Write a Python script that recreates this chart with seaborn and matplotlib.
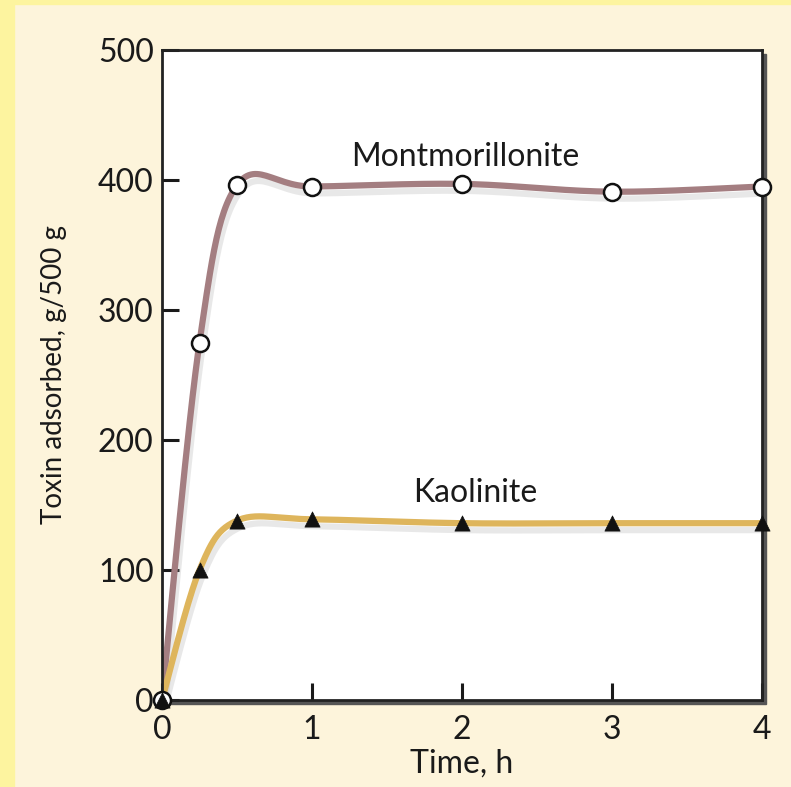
import numpy as np
import seaborn as sns
import matplotlib.pyplot as plt
from matplotlib.patches import Rectangle
import matplotlib.patheffects as pe

# values
time_h = [0, 0.25, 0.5, 1, 2, 3, 4]
montmorillonite = [0, 275, 396, 395, 397, 391, 395]
kaolinite = [0, 100, 138, 139, 136, 136, 136]

x_ticks = [0, 1, 2, 3, 4]
y_ticks = [0, 100, 200, 300, 400, 500]


def smooth(xs, ys, n=30):
    # uniform Catmull-Rom curve through the measured points (drawing only)
    p = np.column_stack([xs, ys]).astype(float)
    p = np.vstack([p[0], p, p[-1]])
    out = []
    t = np.linspace(0, 1, n)[:, None]
    for i in range(1, len(p) - 2):
        p0, p1, p2, p3 = p[i - 1], p[i], p[i + 1], p[i + 2]
        seg = 0.5 * ((2 * p1) + (-p0 + p2) * t + (2 * p0 - 5 * p1 + 4 * p2 - p3) * t ** 2
                     + (-p0 + 3 * p1 - 3 * p2 + p3) * t ** 3)
        out.append(seg if i == 1 else seg[1:])
    out = np.vstack(out)
    return out[:, 0], out[:, 1]


sns.set_style('ticks')
plt.rcParams['font.family'] = ['Lato', 'DejaVu Sans']

W, H = 791, 787
fig = plt.figure(figsize=(W / 100, H / 100), dpi=100)
fig.patch.set_facecolor('#FDF4DB')
fig.patches.append(Rectangle((0, 0), 14 / W, 1, transform=fig.transFigure,
                             color='#FDF49F', zorder=-3))
fig.patches.append(Rectangle((0, 1 - 4 / H), 1, 4 / H, transform=fig.transFigure,
                             color='#FDF49F', zorder=-3))

left, right, top, bottom = 162, 762, 50, 700
# drop shadow behind the plot frame
fig.patches.append(Rectangle(((left + 4) / W, 1 - (bottom + 4) / H), (right - left) / W,
                             (bottom - top) / H, transform=fig.transFigure,
                             color='#555555', zorder=-2))
ax = fig.add_axes([left / W, 1 - bottom / H, (right - left) / W, (bottom - top) / H])
ax.set_facecolor('white')

shadow = [pe.SimpleLineShadow(offset=(2, -5), shadow_color='#999999', alpha=0.22),
          pe.Normal()]

mx, my = smooth(time_h, montmorillonite)
kx, ky = smooth(time_h, kaolinite)
sns.lineplot(x=mx, y=my, sort=False, estimator=None, color='#A47E81', lw=4.5,
             ax=ax, path_effects=shadow, zorder=2)
sns.lineplot(x=kx, y=ky, sort=False, estimator=None, color='#DEB55C', lw=4.5,
             ax=ax, path_effects=shadow, zorder=2)

sns.scatterplot(x=time_h, y=montmorillonite, marker='o', s=150, color='white',
                edgecolor='#111111', linewidth=1.8, ax=ax, zorder=3, clip_on=False)
sns.scatterplot(x=time_h, y=kaolinite, marker='^', s=120, color='#111111',
                edgecolor='#111111', linewidth=0.5, ax=ax, zorder=4, clip_on=False)

ax.text(2.02, 406, 'Montmorillonite', ha='center', va='bottom', fontsize=23,
        color='#1a1a1a')
ax.text(2.09, 148, 'Kaolinite', ha='center', va='bottom', fontsize=23,
        color='#1a1a1a')

ax.set_xlim(0, 4)
ax.set_ylim(0, 500)
ax.set_xticks(x_ticks)
ax.set_yticks(y_ticks)
ax.tick_params(direction='in', length=12, width=2.2, labelsize=23, colors='#1a1a1a',
               pad=6)
ax.tick_params(axis='x', pad=11)
for s in ax.spines.values():
    s.set_color('#222222')
    s.set_linewidth(2)

ax.set_xlabel('Time, h', fontsize=23, color='#1a1a1a')
ax.set_ylabel('Toxin adsorbed, g/500 g', fontsize=20, color='#1a1a1a')
ax.xaxis.set_label_coords(0.5, -0.075)
ax.yaxis.set_label_coords(-0.158, 0.5)

fig.savefig('out.png', dpi=100, facecolor=fig.get_facecolor())
